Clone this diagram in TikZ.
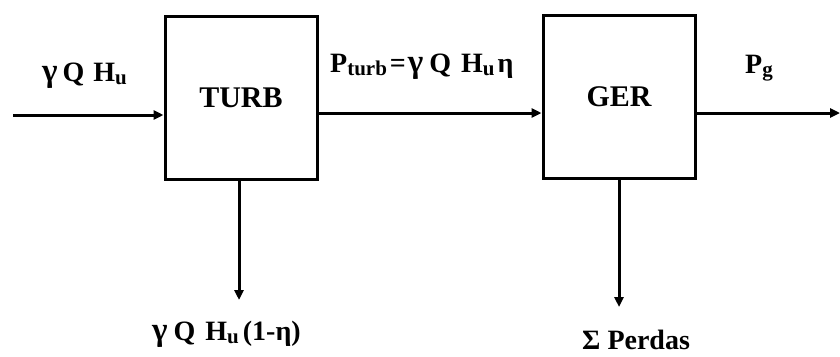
\documentclass[tikz,border=0pt]{standalone}
\usepackage{fontspec}
\setmainfont{Liberation Serif}
\usetikzlibrary{arrows.meta}
\newcommand\sbx[1]{\raisebox{-3pt}{\fontsize{21}{21}\selectfont\bfseries #1}}
\newcommand\gp[1]{\hspace{#1pt}}
\newcommand\gam{{\fontsize{33}{33}\selectfont γ}}
\begin{document}
\begin{tikzpicture}[x=1pt,y=-1pt,
  blk/.style={draw,line width=3pt,minimum width=152pt,minimum height=163pt,inner sep=0pt,
    font=\fontsize{30}{34}\selectfont\bfseries},
  flow/.style={line width=3pt,-{Triangle[length=10pt,width=9pt]}},
  lbl/.style={font=\fontsize{28}{32}\selectfont\bfseries,inner sep=0pt,anchor=base west}]
\useasboundingbox[fill=white] (0,0) rectangle (840,356);
\node[blk] (turb) at (241,98) {TURB};
\node[blk] (ger) at (619,97) {GER};
\coordinate (inS) at (13,115);
\coordinate (outE) at (840,113);
\coordinate (turbD) at (239,300);
\coordinate (gerD) at (619,307);
\draw[flow] (inS) -- (inS -| turb.west);
\draw[flow] (turb.east |- outE) -- (ger.west |- outE);
\draw[flow] (ger.east |- outE) -- (outE);
\draw[flow] (turbD |- turb.south) -- (turbD);
\draw[flow] (gerD |- ger.south) -- (gerD);
\node[lbl] (lin) at (42,81) {\gam\gp{5}Q\gp{9}H\sbx{u}};
\node[lbl] (lturb) at (330,72) {P\sbx{turb}\gp{3}=\gp{2}\gam\gp{6}Q\gp{10}H\sbx{u}\gp{3}η};
\node[lbl] (lg) at (745,73) {P\sbx{g}};
\node[lbl] (lloss) at (152,340) {\gam\gp{6}Q\gp{10}H\sbx{u}\gp{4}(1-η)};
\node[lbl] (lper) at (582,349) {Σ Perdas};
\end{tikzpicture}
\end{document}
